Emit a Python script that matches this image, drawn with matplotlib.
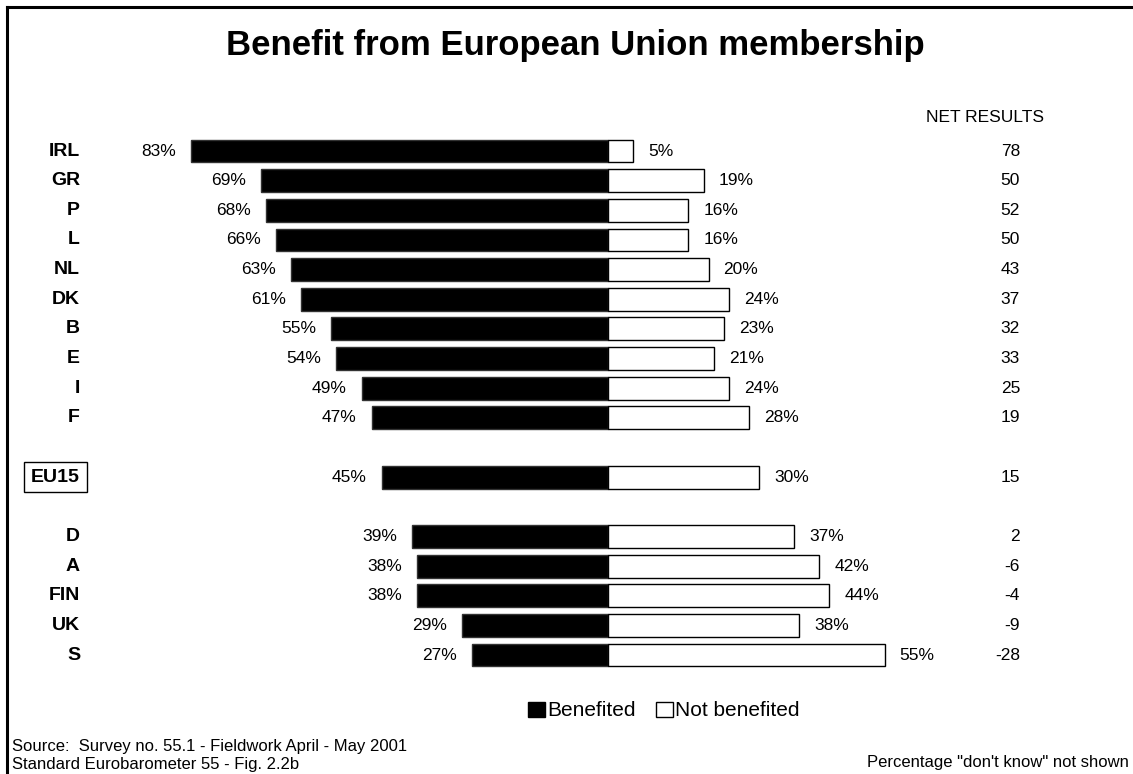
import numpy as np
import matplotlib.pyplot as plt
from matplotlib.patches import Patch
from matplotlib.lines import Line2D

plt.rcParams['font.family'] = ['Liberation Sans', 'DejaVu Sans']

# === data ===
countries = ['IRL', 'GR', 'P', 'L', 'NL', 'DK', 'B', 'E', 'I', 'F',
             'EU15', 'D', 'A', 'FIN', 'UK', 'S']
benefited = [83, 69, 68, 66, 63, 61, 55, 54, 49, 47, 45, 39, 38, 38, 29, 27]
not_benefited = [5, 19, 16, 16, 20, 24, 23, 21, 24, 28, 30, 37, 42, 44, 38, 55]
net_results = [78, 50, 52, 50, 43, 37, 32, 33, 25, 19, 15, 2, -6, -4, -9, -28]

# row slots: gap before and after the EU15 row
rows = np.array(list(range(10)) + [11] + list(range(13, 18)))

W, H = 1133, 774
fig = plt.figure(figsize=(W / 100, H / 100), dpi=100)
ax = fig.add_axes([0, 0, 1, 1])

# pixel-matched data coordinates: 1% = 5.03 px, centre at x=608
pxp = 5.03
cx = 608
ax.set_xlim(-cx / pxp, (W - cx) / pxp)
row_h = 29.65
y0 = 151
ax.set_ylim((H - y0) / row_h, -y0 / row_h)
ax.axis('off')

def fx(px):
    return px / W

def fy(py):
    return 1 - py / H

b = np.array(benefited)
nb = np.array(not_benefited)
ax.barh(rows, -b, height=0.77, color='black', edgecolor='#333333', linewidth=1)
ax.barh(rows, nb, height=0.77, color='white', edgecolor='black', linewidth=1)

gap = 15 / pxp
for r, c, bv, nv, nr in zip(rows, countries, b, nb, net_results):
    ax.text(-bv - gap, r, f'{bv}%', ha='right', va='center', fontsize=12.5)
    ax.text(nv + gap, r, f'{nv}%', ha='left', va='center', fontsize=12.5)
    ax.text((1020 - cx) / pxp, r, f'{nr}', ha='right', va='center', fontsize=12.5)
    if c == 'EU15':
        ax.text((80 - cx) / pxp, r, c, ha='right', va='center', fontsize=14,
                fontweight='bold',
                bbox=dict(boxstyle='square,pad=0.35', facecolor='white',
                          edgecolor='black', linewidth=1))
    else:
        ax.text((80 - cx) / pxp, r, c, ha='right', va='center', fontsize=14,
                fontweight='bold')

ax.text((985 - cx) / pxp, (118 - y0) / row_h, 'NET RESULTS', ha='center',
        va='center', fontsize=12.5)

fig.text(fx(575), fy(45), 'Benefit from European Union membership',
         ha='center', va='center', fontsize=25, fontweight='bold')

handles = [Patch(facecolor='black', edgecolor='black', label='Benefited'),
           Patch(facecolor='white', edgecolor='black', label='Not benefited')]
fig.legend(handles=handles, loc='center', bbox_to_anchor=(fx(664), fy(711)),
           ncol=2, frameon=False, fontsize=15, handlelength=0.8,
           handleheight=0.7, handletextpad=0.1, columnspacing=1.0)

fig.text(fx(12), fy(746), 'Source:  Survey no. 55.1 - Fieldwork April - May 2001',
         ha='left', va='center', fontsize=12)
fig.text(fx(12), fy(764), 'Standard Eurobarometer 55 - Fig. 2.2b',
         ha='left', va='center', fontsize=12)
fig.text(fx(1129), fy(763), 'Percentage "don\'t know" not shown',
         ha='right', va='center', fontsize=12)

# frame lines (top and left)
fig.add_artist(Line2D([fx(7), 1], [fy(7), fy(7)], color='black', linewidth=2.2,
                      transform=fig.transFigure))
fig.add_artist(Line2D([fx(7), fx(7)], [fy(7), 0], color='black', linewidth=2.2,
                      transform=fig.transFigure))

fig.savefig('out.png', dpi=100)
